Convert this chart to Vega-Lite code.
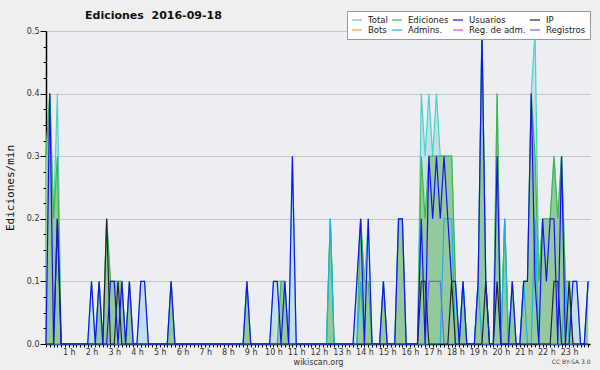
{
"$schema":"https://vega.github.io/schema/vega-lite/v6.json",
"autosize":"none","width":544,"height":313,
"padding":{"left":46,"top":31,"right":10,"bottom":26},
"background":"#efefef",
"title":{"text":"Ediciones\u00a0 2016-09-18","anchor":"start","frame":"group","dx":39,"dy":19,"offset":9,"font":"DejaVu Sans","fontSize":11,"fontWeight":"bold","color":"#111111"},
"data":{"values":[
{"m":0,"T":0.3,"E":0.3,"U":0,"I":0,"A":0,"R":0},
{"m":10,"T":0.4,"E":0.4,"U":0.4,"I":0,"A":0,"R":0},
{"m":20,"T":0.2,"E":0.2,"U":0,"I":0,"A":0,"R":0},
{"m":30,"T":0.4,"E":0.3,"U":0.2,"I":0.2,"A":0,"R":0},
{"m":40,"T":0,"E":0,"U":0,"I":0,"A":0,"R":0},
{"m":50,"T":0,"E":0,"U":0,"I":0,"A":0,"R":0},
{"m":60,"T":0,"E":0,"U":0,"I":0,"A":0,"R":0},
{"m":70,"T":0,"E":0,"U":0,"I":0,"A":0,"R":0},
{"m":80,"T":0,"E":0,"U":0,"I":0,"A":0,"R":0},
{"m":90,"T":0,"E":0,"U":0,"I":0,"A":0,"R":0},
{"m":100,"T":0,"E":0,"U":0,"I":0,"A":0,"R":0},
{"m":110,"T":0,"E":0,"U":0,"I":0,"A":0,"R":0},
{"m":120,"T":0.1,"E":0,"U":0.1,"I":0,"A":0,"R":0},
{"m":130,"T":0,"E":0,"U":0,"I":0,"A":0,"R":0},
{"m":140,"T":0.1,"E":0.1,"U":0.1,"I":0,"A":0,"R":0},
{"m":150,"T":0,"E":0,"U":0,"I":0,"A":0,"R":0},
{"m":160,"T":0.2,"E":0.2,"U":0,"I":0.2,"A":0,"R":0},
{"m":170,"T":0.1,"E":0.1,"U":0.1,"I":0,"A":0,"R":0},
{"m":180,"T":0.1,"E":0.1,"U":0.1,"I":0,"A":0,"R":0},
{"m":190,"T":0.1,"E":0.1,"U":0,"I":0.1,"A":0,"R":0},
{"m":200,"T":0.1,"E":0.1,"U":0.1,"I":0,"A":0,"R":0},
{"m":210,"T":0,"E":0,"U":0,"I":0,"A":0,"R":0},
{"m":220,"T":0.1,"E":0.1,"U":0.1,"I":0,"A":0,"R":0},
{"m":230,"T":0,"E":0,"U":0,"I":0,"A":0,"R":0},
{"m":240,"T":0,"E":0,"U":0,"I":0,"A":0,"R":0},
{"m":250,"T":0.1,"E":0,"U":0.1,"I":0,"A":0,"R":0},
{"m":260,"T":0.1,"E":0,"U":0.1,"I":0,"A":0,"R":0},
{"m":270,"T":0,"E":0,"U":0,"I":0,"A":0,"R":0},
{"m":280,"T":0,"E":0,"U":0,"I":0,"A":0,"R":0},
{"m":290,"T":0,"E":0,"U":0,"I":0,"A":0,"R":0},
{"m":300,"T":0,"E":0,"U":0,"I":0,"A":0,"R":0},
{"m":310,"T":0,"E":0,"U":0,"I":0,"A":0,"R":0},
{"m":320,"T":0,"E":0,"U":0,"I":0,"A":0,"R":0},
{"m":330,"T":0.1,"E":0.1,"U":0.1,"I":0,"A":0,"R":0},
{"m":340,"T":0,"E":0,"U":0,"I":0,"A":0,"R":0},
{"m":350,"T":0,"E":0,"U":0,"I":0,"A":0,"R":0},
{"m":360,"T":0,"E":0,"U":0,"I":0,"A":0,"R":0},
{"m":370,"T":0,"E":0,"U":0,"I":0,"A":0,"R":0},
{"m":380,"T":0,"E":0,"U":0,"I":0,"A":0,"R":0},
{"m":390,"T":0,"E":0,"U":0,"I":0,"A":0,"R":0},
{"m":400,"T":0,"E":0,"U":0,"I":0,"A":0,"R":0},
{"m":410,"T":0,"E":0,"U":0,"I":0,"A":0,"R":0},
{"m":420,"T":0,"E":0,"U":0,"I":0,"A":0,"R":0},
{"m":430,"T":0,"E":0,"U":0,"I":0,"A":0,"R":0},
{"m":440,"T":0,"E":0,"U":0,"I":0,"A":0,"R":0},
{"m":450,"T":0,"E":0,"U":0,"I":0,"A":0,"R":0},
{"m":460,"T":0,"E":0,"U":0,"I":0,"A":0,"R":0},
{"m":470,"T":0,"E":0,"U":0,"I":0,"A":0,"R":0},
{"m":480,"T":0,"E":0,"U":0,"I":0,"A":0,"R":0},
{"m":490,"T":0,"E":0,"U":0,"I":0,"A":0,"R":0},
{"m":500,"T":0,"E":0,"U":0,"I":0,"A":0,"R":0},
{"m":510,"T":0,"E":0,"U":0,"I":0,"A":0,"R":0},
{"m":520,"T":0,"E":0,"U":0,"I":0,"A":0,"R":0},
{"m":530,"T":0.1,"E":0.1,"U":0.1,"I":0,"A":0,"R":0},
{"m":540,"T":0,"E":0,"U":0,"I":0,"A":0,"R":0},
{"m":550,"T":0,"E":0,"U":0,"I":0,"A":0,"R":0},
{"m":560,"T":0,"E":0,"U":0,"I":0,"A":0,"R":0},
{"m":570,"T":0,"E":0,"U":0,"I":0,"A":0,"R":0},
{"m":580,"T":0,"E":0,"U":0,"I":0,"A":0,"R":0},
{"m":590,"T":0,"E":0,"U":0,"I":0,"A":0,"R":0},
{"m":600,"T":0.1,"E":0,"U":0.1,"I":0,"A":0,"R":0},
{"m":610,"T":0.1,"E":0,"U":0.1,"I":0,"A":0,"R":0},
{"m":620,"T":0.1,"E":0.1,"U":0,"I":0,"A":0,"R":0},
{"m":630,"T":0.1,"E":0.1,"U":0.1,"I":0,"A":0,"R":0},
{"m":640,"T":0,"E":0,"U":0,"I":0,"A":0,"R":0},
{"m":650,"T":0.3,"E":0,"U":0.3,"I":0,"A":0,"R":0},
{"m":660,"T":0,"E":0,"U":0,"I":0,"A":0,"R":0},
{"m":670,"T":0,"E":0,"U":0,"I":0,"A":0,"R":0},
{"m":680,"T":0,"E":0,"U":0,"I":0,"A":0,"R":0},
{"m":690,"T":0,"E":0,"U":0,"I":0,"A":0,"R":0},
{"m":700,"T":0,"E":0,"U":0,"I":0,"A":0,"R":0},
{"m":710,"T":0,"E":0,"U":0,"I":0,"A":0,"R":0},
{"m":720,"T":0,"E":0,"U":0,"I":0,"A":0,"R":0},
{"m":730,"T":0,"E":0,"U":0,"I":0,"A":0,"R":0},
{"m":740,"T":0,"E":0,"U":0,"I":0,"A":0,"R":0},
{"m":750,"T":0.2,"E":0.2,"U":0,"I":0,"A":0.2,"R":0},
{"m":760,"T":0,"E":0,"U":0,"I":0,"A":0,"R":0},
{"m":770,"T":0,"E":0,"U":0,"I":0,"A":0,"R":0},
{"m":780,"T":0,"E":0,"U":0,"I":0,"A":0,"R":0},
{"m":790,"T":0,"E":0,"U":0,"I":0,"A":0,"R":0},
{"m":800,"T":0,"E":0,"U":0,"I":0,"A":0,"R":0},
{"m":810,"T":0,"E":0,"U":0,"I":0,"A":0,"R":0},
{"m":820,"T":0.1,"E":0,"U":0.1,"I":0,"A":0,"R":0},
{"m":830,"T":0.2,"E":0.2,"U":0.2,"I":0,"A":0.1,"R":0},
{"m":840,"T":0.1,"E":0.1,"U":0,"I":0,"A":0,"R":0},
{"m":850,"T":0.2,"E":0.1,"U":0.2,"I":0,"A":0,"R":0},
{"m":860,"T":0,"E":0,"U":0,"I":0,"A":0,"R":0},
{"m":870,"T":0,"E":0,"U":0,"I":0,"A":0,"R":0},
{"m":880,"T":0,"E":0,"U":0,"I":0,"A":0,"R":0},
{"m":890,"T":0.1,"E":0.1,"U":0.1,"I":0,"A":0,"R":0},
{"m":900,"T":0,"E":0,"U":0,"I":0,"A":0,"R":0},
{"m":910,"T":0,"E":0,"U":0,"I":0,"A":0,"R":0},
{"m":920,"T":0,"E":0,"U":0,"I":0,"A":0,"R":0},
{"m":930,"T":0.2,"E":0.2,"U":0.2,"I":0,"A":0,"R":0},
{"m":940,"T":0.2,"E":0.2,"U":0.2,"I":0,"A":0,"R":0},
{"m":950,"T":0,"E":0,"U":0,"I":0,"A":0,"R":0},
{"m":960,"T":0,"E":0,"U":0,"I":0,"A":0,"R":0},
{"m":970,"T":0,"E":0,"U":0,"I":0,"A":0,"R":0},
{"m":980,"T":0,"E":0,"U":0,"I":0,"A":0,"R":0},
{"m":990,"T":0.4,"E":0.3,"U":0.2,"I":0.1,"A":0,"R":0},
{"m":1000,"T":0.3,"E":0.2,"U":0,"I":0.1,"A":0,"R":0},
{"m":1010,"T":0.4,"E":0.3,"U":0.3,"I":0,"A":0,"R":0.1},
{"m":1020,"T":0.3,"E":0.3,"U":0.2,"I":0,"A":0,"R":0.1},
{"m":1030,"T":0.4,"E":0.3,"U":0.3,"I":0,"A":0,"R":0.1},
{"m":1040,"T":0.3,"E":0.3,"U":0.2,"I":0,"A":0,"R":0.1},
{"m":1050,"T":0.3,"E":0.3,"U":0.3,"I":0,"A":0.2,"R":0},
{"m":1060,"T":0.3,"E":0.3,"U":0.2,"I":0,"A":0.2,"R":0},
{"m":1070,"T":0.3,"E":0.3,"U":0.1,"I":0.1,"A":0.2,"R":0},
{"m":1080,"T":0.1,"E":0.1,"U":0.1,"I":0,"A":0,"R":0},
{"m":1090,"T":0,"E":0,"U":0,"I":0,"A":0,"R":0},
{"m":1100,"T":0.1,"E":0.1,"U":0.1,"I":0,"A":0.1,"R":0},
{"m":1110,"T":0,"E":0,"U":0,"I":0,"A":0,"R":0},
{"m":1120,"T":0,"E":0,"U":0,"I":0,"A":0,"R":0},
{"m":1130,"T":0,"E":0,"U":0,"I":0,"A":0,"R":0},
{"m":1140,"T":0.1,"E":0.1,"U":0.1,"I":0,"A":0.1,"R":0},
{"m":1150,"T":0.5,"E":0.5,"U":0.5,"I":0,"A":0,"R":0},
{"m":1160,"T":0.1,"E":0.1,"U":0.1,"I":0.1,"A":0,"R":0},
{"m":1170,"T":0,"E":0,"U":0,"I":0,"A":0,"R":0},
{"m":1180,"T":0,"E":0,"U":0,"I":0,"A":0,"R":0},
{"m":1190,"T":0.4,"E":0.4,"U":0.3,"I":0.1,"A":0,"R":0},
{"m":1200,"T":0,"E":0,"U":0,"I":0,"A":0,"R":0},
{"m":1210,"T":0.2,"E":0.2,"U":0,"I":0,"A":0.2,"R":0},
{"m":1220,"T":0,"E":0,"U":0,"I":0,"A":0,"R":0},
{"m":1230,"T":0.1,"E":0.1,"U":0.1,"I":0,"A":0,"R":0},
{"m":1240,"T":0,"E":0,"U":0,"I":0,"A":0,"R":0},
{"m":1250,"T":0,"E":0,"U":0,"I":0,"A":0,"R":0},
{"m":1260,"T":0.1,"E":0.1,"U":0.1,"I":0,"A":0.1,"R":0},
{"m":1270,"T":0.1,"E":0.1,"U":0.1,"I":0,"A":0,"R":0},
{"m":1280,"T":0.4,"E":0.4,"U":0.4,"I":0,"A":0,"R":0},
{"m":1290,"T":0.5,"E":0.3,"U":0.1,"I":0,"A":0.2,"R":0},
{"m":1300,"T":0.1,"E":0.1,"U":0,"I":0,"A":0,"R":0},
{"m":1310,"T":0.2,"E":0.2,"U":0.2,"I":0,"A":0,"R":0},
{"m":1320,"T":0.2,"E":0.2,"U":0.1,"I":0,"A":0,"R":0},
{"m":1330,"T":0.2,"E":0.2,"U":0.2,"I":0,"A":0,"R":0},
{"m":1340,"T":0.3,"E":0.3,"U":0.2,"I":0.1,"A":0,"R":0},
{"m":1350,"T":0.2,"E":0.2,"U":0,"I":0.1,"A":0,"R":0},
{"m":1360,"T":0.3,"E":0.3,"U":0.3,"I":0,"A":0,"R":0},
{"m":1370,"T":0.1,"E":0.1,"U":0,"I":0,"A":0.1,"R":0},
{"m":1380,"T":0.1,"E":0.1,"U":0,"I":0.1,"A":0,"R":0},
{"m":1390,"T":0.1,"E":0,"U":0.1,"I":0,"A":0,"R":0},
{"m":1400,"T":0.1,"E":0,"U":0.1,"I":0,"A":0,"R":0},
{"m":1410,"T":0,"E":0,"U":0,"I":0,"A":0,"R":0},
{"m":1420,"T":0,"E":0,"U":0,"I":0,"A":0,"R":0},
{"m":1430,"T":0.1,"E":0.1,"U":0.1,"I":0,"A":0,"R":0}
]},
"resolve":{"axis":{"x":"independent","y":"independent"}},
"layer":[
{"mark":{"type":"area","fill":"#c5dfea","opacity":1},
 "encoding":{
  "x":{"field":"m","type":"quantitative","scale":{"domain":[0,1435],"nice":false,"zero":false},
   "axis":{"orient":"bottom","values":[0,10,20,30,40,50,60,70,80,90,100,110,120,130,140,150,160,170,180,190,200,210,220,230,240,250,260,270,280,290,300,310,320,330,340,350,360,370,380,390,400,410,420,430,440,450,460,470,480,490,500,510,520,530,540,550,560,570,580,590,600,610,620,630,640,650,660,670,680,690,700,710,720,730,740,750,760,770,780,790,800,810,820,830,840,850,860,870,880,890,900,910,920,930,940,950,960,970,980,990,1000,1010,1020,1030,1040,1050,1060,1070,1080,1090,1100,1110,1120,1130,1140,1150,1160,1170,1180,1190,1200,1210,1220,1230,1240,1250,1260,1270,1280,1290,1300,1310,1320,1330,1340,1350,1360,1370,1380,1390,1400,1410,1420,1430],
    "labelExpr":"datum.value > 0 && datum.value % 60 == 0 ? (datum.value / 60) + ' h' : ''",
    "labelOverlap":false,"labelFlush":false,"labelFontSize":8,"labelColor":"#333333","labelFont":"DejaVu Sans","labelPadding":1,
    "tickSize":3,"tickColor":"#000000","domainColor":"#000000","domainWidth":1.5,"grid":false,
    "title":"wikiscan.org","titleFontSize":8,"titleFontWeight":"normal","titleFont":"DejaVu Sans","titleColor":"#333333","titlePadding":2}},
  "y":{"field":"T","type":"quantitative","scale":{"domain":[0,0.5],"nice":false},
   "axis":{"orient":"left","values":[0,0.025,0.05,0.075,0.1,0.125,0.15,0.175,0.2,0.225,0.25,0.275,0.3,0.325,0.35,0.375,0.4,0.425,0.45,0.475,0.5],
    "labelExpr":"abs(datum.value*10-round(datum.value*10))<0.001 ? format(datum.value,'.1f') : ''",
    "tickSize":{"condition":{"test":"abs(datum.value*10-round(datum.value*10))<0.001","value":6},"value":3},
    "grid":true,"gridColor":"#c8c8c8",
    "gridOpacity":{"condition":{"test":"abs(datum.value*10-round(datum.value*10))<0.001","value":1},"value":0},
    "labelFontSize":8,"labelColor":"#333333","labelFont":"DejaVu Sans","labelPadding":1,
    "tickColor":"#000000","domainColor":"#000000","domainWidth":1.5,
    "title":"Ediciones/min","titleFont":"DejaVu Sans Mono","titleFontSize":11,"titleFontWeight":"normal","titleColor":"#111111","titlePadding":11}}
 }},
{"transform":[{"fold":["T"],"as":["k","v"]}],
 "mark":{"type":"line","strokeWidth":1.2},
 "encoding":{
  "x":{"field":"m","type":"quantitative","axis":null},
  "y":{"field":"v","type":"quantitative","axis":null},
  "color":{"field":"k","type":"nominal",
   "scale":{"domain":["T","E","U","I","B","A","G","R"],"range":["#4cd3c8","#3fb84a","#1414ee","#262626","#f0a040","#1fb3df","#d050e0","#6a6af2"]},
   "legend":{"rowPadding":0,"columnPadding":3,"clipHeight":10,"gridAlign":"each","labelOffset":5,"labelExpr":"{'T':'Total','E':'Ediciones','U':'Usuarios','I':'IP','B':'Bots','A':'Admins.','G':'Reg. de adm.','R':'Registros'}[datum.label]"}}
 }},
{"mark":{"type":"area","fill":"#93c99c","opacity":1},
 "encoding":{
  "x":{"field":"m","type":"quantitative",
   "axis":{"orient":"bottom","title":"CC BY-SA 3.0","titleAnchor":"end","titleFontSize":6,"titleFontWeight":"normal","titleFont":"DejaVu Sans","titleColor":"#444444","titlePadding":14,"domain":false,"ticks":false,"labels":false,"grid":false}},
  "y":{"field":"E","type":"quantitative","axis":null}
 }},
{"transform":[{"fold":["E","A","R","I","U"],"as":["k","v"]}],
 "mark":{"type":"line","strokeWidth":1.2},
 "encoding":{
  "x":{"field":"m","type":"quantitative","axis":null},
  "y":{"field":"v","type":"quantitative","axis":null},
  "color":{"field":"k","type":"nominal",
   "scale":{"domain":["T","E","U","I","B","A","G","R"],"range":["#4cd3c8","#3fb84a","#1414ee","#262626","#f0a040","#1fb3df","#d050e0","#6a6af2"]},
   "legend":{"rowPadding":0,"columnPadding":3,"clipHeight":10,"gridAlign":"each","labelOffset":5,"labelExpr":"{'T':'Total','E':'Ediciones','U':'Usuarios','I':'IP','B':'Bots','A':'Admins.','G':'Reg. de adm.','R':'Registros'}[datum.label]"}}
 }}
],
"config":{
 "view":{"fill":"#eceef1","stroke":null},
 "legend":{"orient":"none","legendX":301,"legendY":-20,"direction":"horizontal","columns":4,"title":null,
  "fillColor":"#ffffff","strokeColor":"#999999","padding":4,"rowPadding":0,"columnPadding":3,"clipHeight":10,"gridAlign":"each",
  "symbolType":"stroke","symbolSize":100,"symbolStrokeWidth":1.5,"symbolOpacity":0.8,
  "labelFontSize":8.5,"labelFont":"DejaVu Sans","labelColor":"#222222","labelOffset":5}
}
}
